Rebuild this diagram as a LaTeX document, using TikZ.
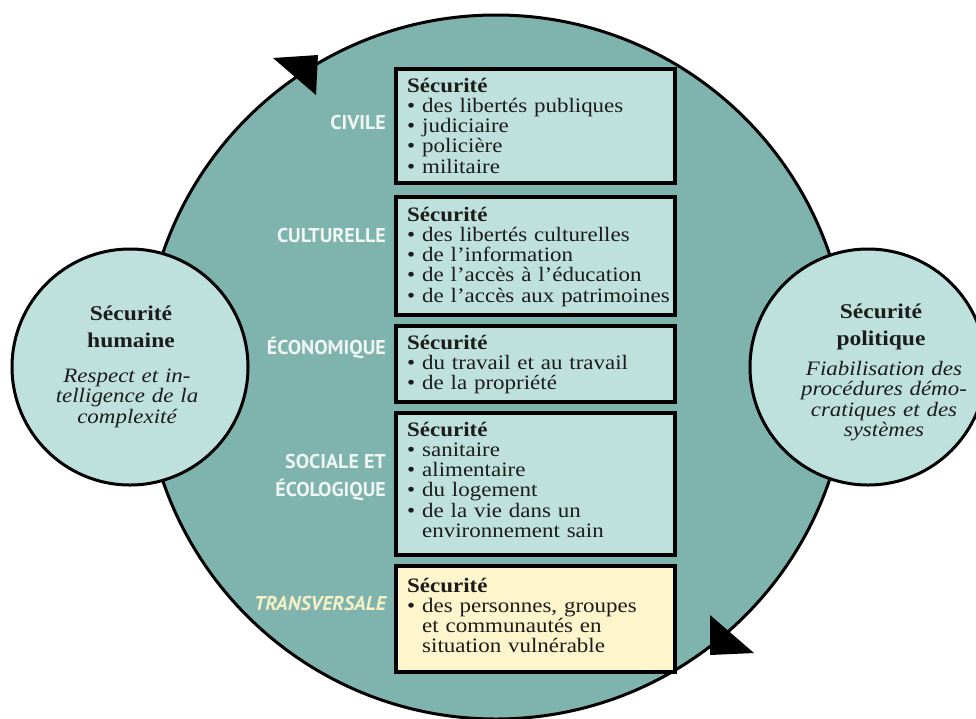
\documentclass[tikz,border=0pt]{standalone}
\usepackage{fontspec}
\setmainfont{Liberation Serif}[FakeStretch=1.12]
\newfontfamily\labfont{PT Sans}
\definecolor{teal1}{HTML}{7FB3AE}
\definecolor{light1}{HTML}{BFE1DD}
\definecolor{yell1}{HTML}{FDF5CB}
\definecolor{ink}{HTML}{1C1C1C}
\definecolor{labwhite}{HTML}{F0F6F4}
\definecolor{labyel}{HTML}{F6F1C4}
\newcommand\itm{\makebox[15pt][l]{•}}
\newcommand\cnt{\hspace*{15pt}}
\tikzset{
  bigc/.style={circle, draw=black, line width=3pt, fill=teal1, minimum size=704pt, inner sep=0pt},
  smallc/.style={circle, draw=black, line width=3pt, fill=light1, minimum size=236pt, inner sep=0pt},
  secbox/.style={rectangle, draw=black, line width=4pt, fill=light1, minimum width=279pt, anchor=north west, inner sep=0pt},
  boxtxt/.style={anchor=base west, inner sep=0pt, text width=266pt, align=left, text=ink,
    font=\fontsize{20.5}{20.3}\selectfont},
  lab/.style={anchor=base east, inner sep=0pt, text=labwhite, font=\labfont\bfseries\fontsize{20}{24}\selectfont},
  ctitle/.style={anchor=base, inner sep=0pt, text width=220pt, align=center, text=ink,
    font=\bfseries\fontsize{21}{27.5}\selectfont},
  ctext/.style={anchor=base, inner sep=0pt, text width=220pt, align=center, text=ink,
    font=\itshape\fontsize{20.5}{20.6}\selectfont},
  arrowtri/.style={fill=black}
}
\begin{document}
\begin{tikzpicture}[x=1pt,y=-1pt]
\useasboundingbox (0,0) rectangle (976,718);
% big circle
\node[bigc] (big) at (496,367) {};
% arrowheads on the circle
\fill[arrowtri] (318,55) -- (273,58) -- (316,95) -- cycle;
\fill[arrowtri] (710,655) -- (710,615) -- (754,653) -- cycle;
% boxes
\node[secbox, minimum height=114pt] (b1) at (394,67) {};
\node[secbox, minimum height=118pt] (b2) at (394,195) {};
\node[secbox, minimum height=76pt] (b3) at (394,324) {};
\node[secbox, minimum height=142pt] (b4) at (394,411) {};
\node[secbox, minimum height=106pt, fill=yell1] (b5) at (394,564) {};
% box texts
\node[boxtxt] (t1) at (407,92) {\textbf{Sécurité}\\\itm des libertés publiques\\\itm judiciaire\\\itm policière\\\itm militaire};
\node[boxtxt] (t2) at (407,221) {\textbf{Sécurité}\\\itm des libertés culturelles\\\itm de l’information\\\itm de l’accès à l’éducation\\\itm de l’accès aux patrimoines};
\node[boxtxt] (t3) at (407,349) {\textbf{Sécurité}\\\itm du travail et au travail\\\itm de la propriété};
\node[boxtxt] (t4) at (407,436) {\textbf{Sécurité}\\\itm sanitaire\\\itm alimentaire\\\itm du logement\\\itm de la vie dans un\\\cnt environnement sain};
\node[boxtxt] (t5) at (407,592) {\textbf{Sécurité}\\\itm des personnes, groupes\\\cnt et communautés en\\\cnt situation vulnérable};
% labels
\node[lab] (l1) at (386,129) {CIVILE};
\node[lab] (l2) at (386,242) {CULTURELLE};
\node[lab] (l3) at (386,354) {ÉCONOMIQUE};
\node[lab] (l4a) at (386,468) {SOCIALE ET};
\node[lab] (l4b) at (386,496) {ÉCOLOGIQUE};
\node[lab, text=labyel, font=\labfont\bfseries\itshape\fontsize{20}{24}\selectfont] (l5) at (386,610) {TRANSVERSALE};
% small circles
\node[smallc] (hum) at (130,367) {};
\node[smallc] (pol) at (868,367) {};
\node[ctitle] (humt) at (131,320) {Sécurité\\humaine};
\node[ctext] (humx) at (127,382) {Respect et in-\\telligence de la\\complexité};
\node[ctitle] (polt) at (881,318) {Sécurité\\politique};
\node[ctext] (polx) at (884,375) {Fiabilisation des\\procédures démo-\\cratiques et des\\systèmes};
\end{tikzpicture}
\end{document}
